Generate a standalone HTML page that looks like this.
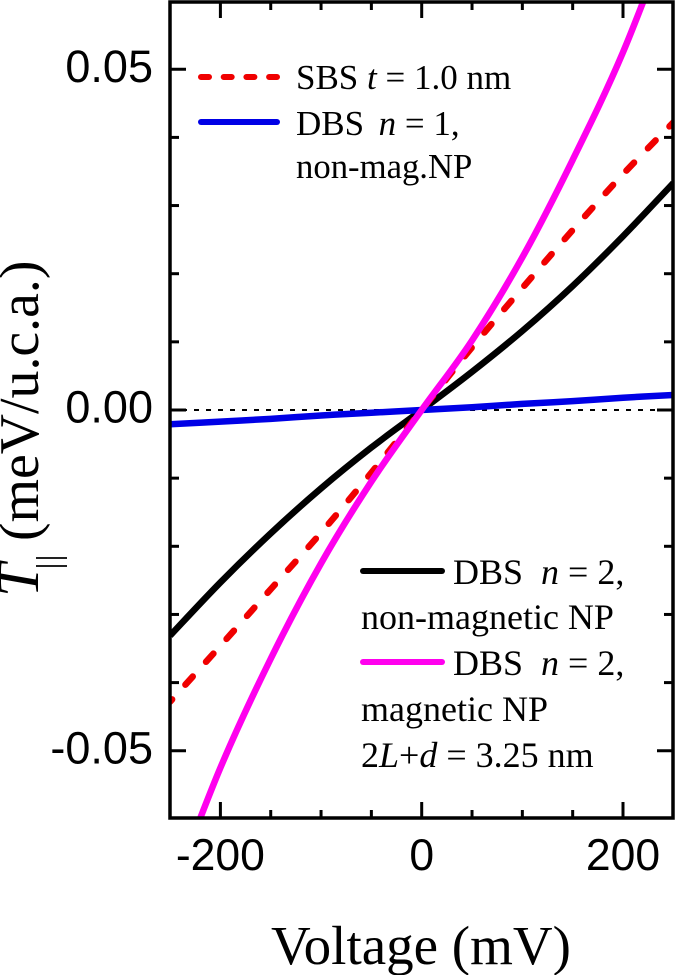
<!DOCTYPE html>
<html lang="en">
<head>
<meta charset="utf-8">
<title>Voltage dependence of T parallel</title>
<style>
html,body{margin:0;padding:0;background:#fff;}
svg{display:block;}
text{white-space:pre;fill:#000;}
.serif{font-family:"Liberation Serif",serif;}
.sans{font-family:"Liberation Sans",sans-serif;}
.leg{font-family:"Liberation Serif",serif;font-size:35px;}
.leg2{font-family:"Liberation Serif",serif;font-size:36px;}
</style>
</head>
<body>
<svg id="chart" width="675" height="975" viewBox="0 0 675 975" xmlns="http://www.w3.org/2000/svg">
  <defs><clipPath id="plot-clip"><rect x="170" y="2" width="503" height="816"></rect></clipPath></defs>
  <g id="grid-zero"></g>
  <g id="curves" clip-path="url(#plot-clip)"></g>
  <g id="axes"></g>

  <text class="serif" x="421" y="964" font-size="55" text-anchor="middle">Voltage (mV)</text>
  <g>
    <text class="serif" transform="translate(38,597) rotate(-90)" font-size="60" font-style="italic">T</text>
    <text class="serif" transform="translate(60,569.4) rotate(-90)" font-size="34" letter-spacing="1.2">||</text>
    <text class="serif" transform="translate(38,541) rotate(-90)" font-size="55.8">(meV/u.c.a.)</text>
  </g>

  <g>
    <line x1="201" y1="77" x2="277" y2="77" stroke="#f00000" stroke-width="6" stroke-linecap="round" stroke-dasharray="8 14.7"></line>
    <text class="leg" x="296" y="89">SBS <tspan font-style="italic">t</tspan> = 1.0 nm</text>
    <line x1="201" y1="122" x2="277" y2="122" stroke="#0000e6" stroke-width="6" stroke-linecap="round"></line>
    <text class="leg" x="296" y="135">DBS  <tspan font-style="italic" dx="-3">n</tspan> = 1,</text>
    <text class="leg" x="296" y="178" font-size="34.7" style="font-size:34.7px">non-mag.NP</text>
  </g>
  <g>
    <line x1="363" y1="571" x2="442" y2="571" stroke="#000" stroke-width="6" stroke-linecap="round"></line>
    <text class="leg2" x="453" y="584">DBS  <tspan font-style="italic">n</tspan> = 2,</text>
    <text class="leg2" x="361" y="629">non-magnetic NP</text>
    <line x1="363" y1="662" x2="442" y2="662" stroke="#ff00ee" stroke-width="6" stroke-linecap="round"></line>
    <text class="leg2" x="453" y="675">DBS  <tspan font-style="italic">n</tspan> = 2,</text>
    <text class="leg2" x="361" y="721">magnetic NP</text>
    <text class="leg2" x="361" y="767">2<tspan font-style="italic">L</tspan>+<tspan font-style="italic">d</tspan> = 3.25 nm</text>
  </g>
</svg>
<script>
const voltages = [-250, -200, -150, -100, -50, 0, 50, 100, 150, 200, 250];
const sbsValues = [-0.0428, -0.0346, -0.0263, -0.018, -0.0092, 0, 0.0092, 0.0179, 0.0264, 0.0346, 0.0422];
const dbsN1Values = [-0.0021, -0.0017, -0.0013, -0.0008, -0.0004, 0, 0.0004, 0.0009, 0.0013, 0.0018, 0.0022];
const dbsN2NonMagValues = [-0.0331, -0.0253, -0.0181, -0.0115, -0.0055, 0, 0.0056, 0.0116, 0.0182, 0.0255, 0.0333];
const dbsN2MagValues = [-0.0715, -0.0525, -0.0365, -0.0225, -0.0105, 0, 0.0102, 0.0224, 0.0367, 0.0525, 0.0715];
const xMajorTicks = [-200, 0, 200];
const xMinorTicks = [-150, -100, -50, 50, 100, 150];
const yMajorTicks = [-0.05, 0, 0.05];
const yMinorTicks = [-0.04, -0.03, -0.02, -0.01, 0.01, 0.02, 0.03, 0.04];
const xTickLabels = ['-200', '0', '200'];
const yTickLabels = ['-0.05', '0.00', '0.05'];

const NS = 'http://www.w3.org/2000/svg';
const PLOT = { left: 170, right: 673, top: 2, bottom: 818 };
function xScale(v) { return 421.7 + v * 1.0065; }
function yScale(t) { return 410 - t * 6815; }

function make(tag, parent, attrs) {
  const el = document.createElementNS(NS, tag);
  Object.keys(attrs).forEach(function (k) { el.setAttribute(k, attrs[k]); });
  parent.appendChild(el);
  return el;
}

function smoothPath(xs, ys) {
  const p = xs.map(function (x, i) { return [xScale(x), yScale(ys[i])]; });
  let d = 'M' + p[0][0].toFixed(2) + ' ' + p[0][1].toFixed(2);
  for (let i = 0; i < p.length - 1; i++) {
    const a = p[Math.max(i - 1, 0)], b = p[i], c = p[i + 1], e = p[Math.min(i + 2, p.length - 1)];
    const c1x = b[0] + (c[0] - a[0]) / 6, c1y = b[1] + (c[1] - a[1]) / 6;
    const c2x = c[0] - (e[0] - b[0]) / 6, c2y = c[1] - (e[1] - b[1]) / 6;
    d += 'C' + c1x.toFixed(2) + ' ' + c1y.toFixed(2) + ' ' + c2x.toFixed(2) + ' ' + c2y.toFixed(2) + ' ' + c[0].toFixed(2) + ' ' + c[1].toFixed(2);
  }
  return d;
}

const zeroLayer = document.getElementById('grid-zero');
const curveLayer = document.getElementById('curves');
const axesLayer = document.getElementById('axes');

const zeroLine = make('line', zeroLayer, { x1: PLOT.left, x2: PLOT.right, y1: yScale(0), y2: yScale(0), stroke: '#000', 'stroke-width': 2, 'stroke-dasharray': '5 7' });



const blackCurve = make('path', curveLayer, { d: smoothPath(voltages, dbsN2NonMagValues), fill: 'none', stroke: '#000', 'stroke-width': 6.5 });



const blueCurve = make('path', curveLayer, { d: smoothPath(voltages, dbsN1Values), fill: 'none', stroke: '#0000e6', 'stroke-width': 6.5 });



const redCurve = make('path', curveLayer, { d: smoothPath(voltages, sbsValues), fill: 'none', stroke: '#f00000', 'stroke-width': 6.5, 'stroke-linecap': 'round', 'stroke-dasharray': '11 19.8', 'stroke-dashoffset': 7.9 });



const magentaCurve = make('path', curveLayer, { d: smoothPath(voltages, dbsN2MagValues), fill: 'none', stroke: '#ff00ee', 'stroke-width': 6.5 });



const frame = make('rect', axesLayer, { x: PLOT.left, y: PLOT.top, width: PLOT.right - PLOT.left, height: PLOT.bottom - PLOT.top, fill: 'none', stroke: '#000', 'stroke-width': 3.5 });



function xTick(v, len, kind) {
  const px = xScale(v);
  const b = make('line', axesLayer, { x1: px, x2: px, y1: PLOT.bottom, y2: PLOT.bottom - len, stroke: '#000', 'stroke-width': 3 });
  
  
  const t = make('line', axesLayer, { x1: px, x2: px, y1: PLOT.top, y2: PLOT.top + len, stroke: '#000', 'stroke-width': 3 });
  
  
}
function yTick(v, len, kind) {
  const py = yScale(v);
  const l = make('line', axesLayer, { x1: PLOT.left, x2: PLOT.left + len, y1: py, y2: py, stroke: '#000', 'stroke-width': 3 });
  
  
  const r = make('line', axesLayer, { x1: PLOT.right, x2: PLOT.right - len, y1: py, y2: py, stroke: '#000', 'stroke-width': 3 });
  
  
}
xMajorTicks.forEach(function (v) { xTick(v, 16, 'major'); });
xMinorTicks.forEach(function (v) { xTick(v, 8, 'minor'); });
yMajorTicks.forEach(function (v) { yTick(v, 16, 'major'); });
yMinorTicks.forEach(function (v) { yTick(v, 9, 'minor'); });

xMajorTicks.forEach(function (v, i) {
  const lab = make('text', axesLayer, { x: xScale(v), y: 870, 'text-anchor': 'middle', 'font-size': 44.5, class: 'sans' });
  lab.textContent = xTickLabels[i];
  
  
});
yMajorTicks.forEach(function (v, i) {
  const lab = make('text', axesLayer, { x: 153, y: yScale(v) + 12.5, 'text-anchor': 'end', 'font-size': 45, class: 'sans' });
  lab.textContent = yTickLabels[i];
  
  
});
</script>
</body>
</html>
